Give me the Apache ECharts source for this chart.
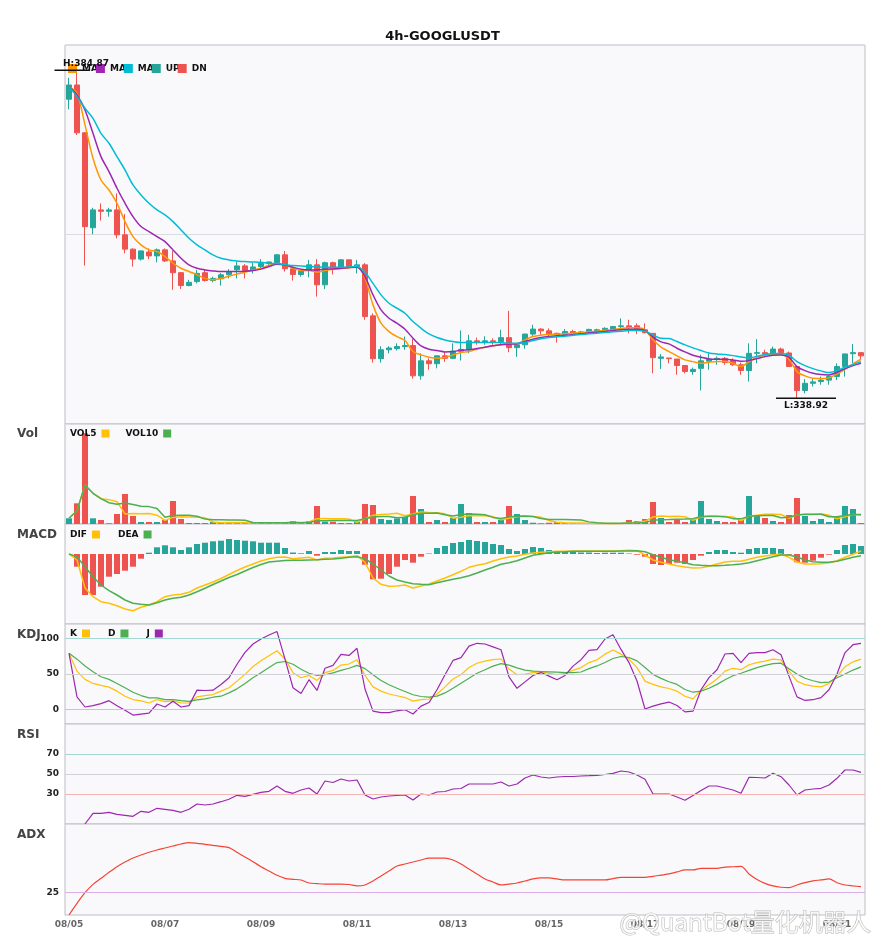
<!DOCTYPE html>
<html>
<head>
<meta charset="utf-8">
<title>4h-GOOGLUSDT</title>
<script src="https://cdn.jsdelivr.net/npm/echarts/dist/echarts.min.js"></script>
<style>
html, body { margin: 0; padding: 0; background: #fff; }
#main { width: 885px; height: 950px; }
</style>
</head>
<body>
<div id="main"></div>
<script>
// 4h candles, 08/05 00:00 .. 08/21 12:00
var days = ['08/05','08/06','08/07','08/08','08/09','08/10','08/11','08/12','08/13',
            '08/14','08/15','08/16','08/17','08/18','08/19','08/20','08/21'];
var hours = ['00:00','04:00','08:00','12:00','16:00','20:00'];

var opens = [380.8,382.8,376.1,362.8,365.3,365.1,365.3,361.8,359.8,358.4,
  359.4,358.85,359.7,358.15,356.5,354.7,355.25,356.5,355.4,355.65,
  356.2,356.9,357.45,356.8,357.35,357.8,357.9,359.0,357.05,356.25,
  356.8,357.6,354.8,357.9,357.15,358.3,357.35,357.6,350.45,344.45,
  345.7,345.87,346.15,346.3,342.05,344.15,343.75,344.85,344.5,345.5,
  345.78,346.95,346.75,346.95,346.85,347.4,346.0,346.4,347.9,348.6,
  348.35,348.0,347.75,348.25,348.0,348.2,348.3,348.5,348.55,348.95,
  349.05,349.05,348.5,348.0,344.5,344.55,344.4,343.5,342.65,343.1,
  344.1,344.4,344.5,344.2,343.6,342.8,345.2,345.3,345.2,345.8,
  345.25,343.35,340.0,341.0,341.25,341.45,341.95,343.35,345.15,345.3];
var closes = [382.8,376.1,362.95,365.3,365.1,365.3,361.8,359.8,358.4,359.55,
  358.85,359.7,358.15,356.5,354.7,355.15,356.4,355.4,355.7,356.2,
  356.65,357.45,356.8,357.3,357.8,358.0,359.0,357.05,356.25,356.75,
  357.6,354.8,357.9,357.15,358.3,357.25,357.6,350.35,344.45,345.7,
  345.95,346.15,346.3,342.05,344.15,343.75,344.85,344.5,345.5,345.75,
  346.95,346.75,346.95,346.75,347.4,346.0,346.4,347.9,348.6,348.35,
  347.9,347.75,348.25,348.0,348.2,348.55,348.5,348.7,348.95,349.05,
  348.8,348.6,348.1,344.6,344.7,344.45,343.5,342.65,342.95,344.15,
  344.4,344.5,343.9,343.6,342.8,345.2,345.3,345.1,345.8,345.3,
  343.35,339.98,341.0,341.2,341.45,341.95,343.35,345.12,345.3,344.85];
var lows = [379.4,375.8,357.5,361.9,363.8,364.35,361.3,359.2,357.35,358.2,
  358.4,357.95,358.0,354.1,354.2,354.6,355.0,355.25,355.15,354.7,
  355.7,355.7,355.7,356.4,357.1,357.35,357.8,356.65,355.4,355.95,
  355.85,353.15,354.2,356.25,357.0,357.15,356.4,349.9,343.9,343.9,
  345.2,345.6,345.7,341.65,341.5,342.9,343.1,344.0,344.4,344.2,
  345.2,346.4,346.4,346.4,346.4,345.35,344.7,345.85,347.65,347.8,
  347.55,346.7,347.55,347.8,347.95,348.1,348.15,348.2,348.25,348.35,
  348.0,347.9,348.0,342.4,343.0,343.8,342.2,342.4,342.2,340.0,
  342.9,343.6,343.6,343.45,342.2,341.25,343.8,344.65,345.2,345.2,
  343.35,338.92,339.6,340.55,340.8,340.8,341.45,341.95,343.8,344.3];
var highs = [383.8,384.87,376.2,365.6,366.2,365.6,367.6,364.7,359.9,359.6,
  359.9,359.9,359.9,359.55,356.6,355.5,356.9,356.9,355.95,356.45,
  357.0,358.05,357.7,357.9,358.4,358.05,359.1,359.55,357.35,357.0,
  358.3,358.4,358.05,358.05,358.4,358.3,358.3,357.85,350.8,346.2,
  346.2,346.6,347.55,347.2,345.2,344.5,344.9,345.4,346.6,348.4,
  347.8,347.4,347.6,347.3,348.5,351.15,346.6,347.95,349.2,348.7,
  348.7,348.1,348.6,348.5,348.35,348.65,348.65,348.85,349.05,350.1,
  349.9,349.4,349.4,348.0,345.1,344.55,344.4,343.5,343.2,345.0,
  345.2,344.75,344.7,344.5,343.9,346.6,347.2,345.7,346.15,346.0,
  345.45,343.35,341.6,341.6,341.95,342.2,343.8,345.12,346.5,345.3];

var ma5 = [382.57,381.63,377.2,372.53,369.49,368.09,366.23,363.66,361.56,360.39,
  359.69,359.46,358.76,357.82,357.12,356.66,356.2,355.7,355.5,355.7,
  356.0,356.3,356.55,356.9,357.1,357.54,357.73,357.59,357.12,356.8,
  356.8,356.56,356.8,356.98,357.08,357.17,357.45,355.72,351.99,349.42,
  348.25,347.55,346.99,345.45,344.98,344.66,344.52,344.61,344.98,345.31,
  345.45,345.78,346.06,346.25,346.43,346.53,346.53,347.09,347.55,347.74,
  347.83,347.88,347.93,348.02,348.12,348.21,348.3,348.4,348.54,348.68,
  348.77,348.77,348.49,347.09,346.06,345.45,344.84,344.28,344.04,343.81,
  343.95,344.04,344.04,343.81,343.34,344.04,344.65,344.93,345.07,345.07,
  344.37,342.64,342.04,341.71,341.66,341.76,342.32,342.97,343.72,344.37];
var ma10 = [382.57,381.4,379.3,376.03,372.76,370.66,368.33,366.23,364.36,362.96,
  362.26,361.56,360.86,359.69,358.52,357.59,357.12,356.89,356.75,356.66,
  356.66,356.66,356.7,356.8,357.0,357.36,357.68,357.59,357.26,356.98,
  356.89,356.89,356.98,357.03,357.12,357.22,357.26,355.95,353.39,351.29,
  350.12,349.42,348.58,347.32,346.24,345.78,345.59,345.4,345.45,345.64,
  345.69,345.87,346.06,346.25,346.39,346.48,346.53,346.85,347.18,347.41,
  347.55,347.65,347.74,347.83,347.93,348.07,348.16,348.26,348.4,348.49,
  348.58,348.58,348.4,347.46,346.8,346.52,345.91,345.4,344.93,344.65,
  344.42,344.37,344.37,344.28,344.09,344.18,344.46,344.74,344.93,344.98,
  344.65,343.34,342.78,342.41,342.22,342.18,342.55,343.06,343.48,343.81];
var ma20 = [382.57,381.17,379.53,378.13,376.03,374.63,372.76,370.9,368.79,367.39,
  366.23,365.29,364.59,363.66,362.49,361.32,360.39,359.69,358.99,358.52,
  358.29,358.15,358.05,358.0,357.95,357.82,357.78,357.64,357.5,357.45,
  357.36,357.31,357.26,357.26,357.26,357.31,357.36,356.56,355.0,353.39,
  352.22,351.52,350.82,349.65,348.72,347.92,347.41,347.08,346.85,346.71,
  346.71,346.71,346.71,346.71,346.71,346.62,346.62,346.71,346.99,347.23,
  347.41,347.51,347.6,347.74,347.83,347.93,348.02,348.12,348.21,348.3,
  348.4,348.4,348.3,347.79,347.3,347.27,346.85,346.38,345.96,345.59,
  345.26,345.12,345.03,344.88,344.7,344.56,344.79,345.03,345.17,345.17,
  344.93,344.04,343.48,343.06,342.74,342.5,342.78,343.25,343.62,344.04];

var volumes = [570,2070,9070,570,400,70,1000,3000,800,200,
  200,200,400,2300,500,100,100,100,200,100,
  100,150,100,100,150,100,100,200,300,70,
  300,1800,230,230,100,100,230,2000,1900,500,
  400,570,730,2800,1500,200,400,200,600,2000,
  1100,200,200,200,430,1800,1000,400,130,70,
  130,200,70,70,30,30,30,30,30,100,
  400,300,500,2200,600,200,430,200,430,2300,
  500,300,200,200,400,2800,830,600,300,200,
  900,2600,800,300,500,200,800,1800,1500,100];

var dif = [0,-6,-34,-42.7,-47.7,-49.3,-51.7,-55,-56.7,-53.3,
  -51,-47.7,-42.7,-41,-40.3,-38.3,-34,-31,-28,-24.5,
  -20.5,-16.5,-13,-10,-7,-4.8,-3.2,-3,-4.8,-4,
  -3.3,-6,-4.3,-4,-3.3,-2.7,-1.7,-8.3,-24,-30.3,
  -32.3,-32,-31,-34,-32,-30,-27,-24,-20.7,-17.3,
  -13.3,-11.3,-9.7,-7,-4.7,-3,-2,-0.3,1,1.7,
  2.3,2.7,2.7,3,3,3,3,3,3,3.3,
  3.7,3.3,-1,-6,-8.3,-10,-11.7,-13,-14,-13.7,
  -12.3,-10,-8,-7.3,-7.3,-5.3,-3.3,-2,-0.7,0,
  -3.3,-8,-10,-10,-9.7,-8.7,-6.7,-3.3,-0.3,3];
var dea = [0,-2.7,-12.7,-22.7,-31,-36.7,-41,-46,-49.3,-50.3,
  -51,-48.7,-46,-44.3,-43.3,-41,-37.7,-34.3,-30.5,-27,
  -23.5,-20.5,-17,-13.5,-10.5,-8,-7.2,-6.5,-6.2,-6.3,
  -6,-5.7,-5.3,-5,-4.3,-3.3,-2.7,-4.7,-10,-16,
  -22,-26,-28,-29.7,-30.3,-30.7,-28.7,-27,-25.3,-23.7,
  -21.7,-19,-16,-13.3,-10.3,-8.7,-6.7,-4,-1.3,0,
  1.3,2,2.3,2.7,2.7,2.7,2.7,2.7,2.7,3,
  3,3.3,2.3,-0.7,-3.3,-5.7,-7.3,-8.7,-10.7,-11.3,
  -11.7,-11.7,-11.3,-10.7,-10,-8.7,-6.7,-4.7,-2.7,-1,
  -1,-3,-6,-7.7,-8.3,-8.3,-7.3,-5.3,-3.3,-1.7];
var hist = [0,-12.7,-41,-41,-32.7,-22.7,-20,-16.7,-12.7,-4.7,
  1.3,6.7,8.7,6.7,4,6.7,10,11.3,12.7,13.3,
  15,14,13.3,12.7,11.3,11.3,11.3,6,1.5,0.7,
  3,-1.7,2,2,4,3,3,-10.7,-25.3,-24.7,
  -20,-12.7,-6,-8.7,-2.7,0.5,6,8,11,12,
  14,13,12,10,9,5,3,5,7,6,
  4,3,2,2,1.5,1.5,1,1.3,1.3,1.3,
  0.5,-0.7,-2.7,-10,-11,-10,-8.7,-10,-6,-1.7,
  2,4,4,2,1.3,5,6,6,6,5,
  -0.7,-8.3,-8.7,-6.7,-3.7,-0.7,4,9,10,8];

var kLine = [79,54,42.5,36.8,34,31.6,26,18.9,14.2,12.3,
  9.4,14.2,11.3,12.3,9.4,9.4,17.9,19.8,21.2,26,
  30.7,40,49.5,60.4,68.4,75.5,82.5,70.8,51.9,44.8,
  48,41,52,55,62.5,64,70,48,32,26,
  22,19.5,17,12,14,15,22,32,43,49,
  59,65,68,70,71,57,49,50,52,53,
  51,49,51,55,59,66,69.8,77.8,83.5,77.8,
  70.8,59,40,35.4,32,29.7,26,18.9,15.1,27.4,
  35,43,54,58,56,63,66,68,70.8,69.8,
  54,40,35,33,32,36.8,47.2,60,67,70.8];
var dLine = [79,70.8,61.3,53.3,46.2,42.5,36.8,30.7,24.5,19.8,
  16.5,16.5,14.2,14.2,12.7,11.8,13.7,15.1,17.5,18.9,
  23.6,29.2,36.8,44.8,51.9,59,66,67.5,63.7,56.6,
  51,48,49,51.5,55,58,62,57.5,49,41,
  35,30,25.5,21,18.5,17.5,19,23.5,30,37,
  44,51,56,61,64.5,62.5,58.5,55.5,54,53.5,
  53,52.5,52,52,52.8,57.5,61.3,66,71.7,74.5,
  73.1,68.4,59,49.5,43.9,39.2,35.4,28.3,24.5,26,
  30,35.5,42,47.5,51,55,59,62,64.6,65.1,
  57.5,50,44,40.5,38,38.7,44.8,50,55.5,59.9];
var jLine = [79,17.9,3.8,5.7,8.5,12.7,5.7,-0.9,-7.5,-6.1,
  -4.7,8,3.8,11.8,3.8,5.7,27.4,26.9,27.4,35.4,
  44.8,63.7,80.2,92,99,104.7,109.4,70.8,30.7,22.6,
  42,27,58,62,77.5,76,86,29,-2,-4,
  -4,-1.5,0,-6,5,10,28,49,69,73,
  89,93,92,88,84,46,30,39,48,52,
  47,42,48,61,70,83,84,99,105,84.4,
  66,40.2,1,5,8.2,10.7,6,-3,-2,28,
  45,56,78,79,66,79,80,80,84,77,
  47,18,13,14,17,28,50,80,91,93];

var rsi = ['-','-',0,10.7,10.7,11.7,9.7,8.7,7.7,12.7,
  11.7,15.7,14.7,13.7,11.7,14.7,20,19,20,22.3,
  24.7,28.7,27.7,29.7,31.7,32.7,38,32.7,30.7,34,
  36,30,43,41.5,45,43,44,29,25,27,
  28,28.5,29,24,30,29,32,32.5,35,35.5,
  40,40,40,40,42,38,40,46,49,47,
  46,47,47.5,47.5,48,48.3,48.7,49.5,50.7,53,
  52,49,44.7,30,30,30,27,23.7,28.5,33.5,
  38,38,36,34,30.7,46.7,46.5,46,50.7,47.3,
  39,29,34,35,35.7,39,45.7,54,54,51.7];

var adx = [0,12.8,24.5,33.7,40.3,46.9,53.1,58.2,62.6,65.9,
  68.9,71.4,73.6,75.8,78,79.5,78.8,77.7,76.6,75.5,
  74,68.9,63.7,58.6,53.1,48.4,43.6,40.3,39.2,38.5,
  35.2,34.5,34,34,34,33.5,31.9,33,37.4,42.9,
  48.4,53.8,56,58.2,60.4,62.6,62.6,62.6,60.4,56,
  50.5,45,39.6,36.3,33,34,35.2,37.4,39.6,40.7,
  40.7,39.6,38.5,38.5,38.5,38.5,38.5,38.5,40,41.4,
  41.4,41.4,41.4,42.5,43.8,45.1,47.3,49.5,49.5,51.3,
  51.3,51.3,52.7,53,53.5,45,39,34.8,32,30.5,
  30,33,35.5,37.5,38.5,39.6,35.5,33,32,31.1];

var UP = '#26a69a', DN = '#ef5350';
var FONT = 'DejaVu Sans';

var categories = [];
var kdata = [];
for (var i = 0; i < closes.length; i++) {
  categories.push(days[Math.floor(i / 6)] + ' ' + hours[i % 6]);
  kdata.push([opens[i], closes[i], lows[i], highs[i]]);
}

function sma(arr, n) {
  var out = [];
  for (var i = 0; i < arr.length; i++) {
    var s = 0, c = 0;
    for (var j = Math.max(0, i - n + 1); j <= i; j++) { s += arr[j]; c++; }
    out.push(+(s / c).toFixed(2));
  }
  return out;
}

var volBars = volumes.map(function (v, i) {
  return { value: v, itemStyle: { color: closes[i] >= opens[i] ? UP : DN } };
});
var histBars = hist.map(function (v) {
  return { value: v, itemStyle: { color: v >= 0 ? UP : DN } };
});

var hiIdx = highs.indexOf(Math.max.apply(null, highs));
var loIdx = lows.indexOf(Math.min.apply(null, lows));

var mainMin = 335.3, mainMax = 388.4;

var tops = [45, 424, 524, 624, 724, 824];
var heights = [379, 100, 100, 100, 100, 91];

var grids = [], xAxes = [];
for (var g = 0; g < 6; g++) {
  grids.push({
    left: 65, right: 20, top: tops[g], height: heights[g],
    show: true, backgroundColor: '#f9f9fb', borderColor: '#bdbdc4', borderWidth: 1
  });
  xAxes.push({
    type: 'category', gridIndex: g, data: categories, boundaryGap: true,
    axisLine: { show: false }, axisTick: { show: false },
    splitLine: { show: false },
    axisLabel: g === 5 ? {
      show: true, interval: 11, color: '#666', fontSize: 9, fontWeight: 'bold',
      fontFamily: FONT, margin: 5,
      formatter: function (v) { return v.slice(0, 5); }
    } : { show: false }
  });
}

function labelAxis(gi, min, max, interval, shown) {
  return {
    type: 'value', gridIndex: gi, min: min, max: max, interval: interval,
    axisLine: { show: false }, axisTick: { show: false }, splitLine: { show: false },
    axisLabel: {
      show: true, color: '#222', fontSize: 9, fontWeight: 'bold', fontFamily: FONT, margin: 6,
      formatter: function (v) { return shown.indexOf(v) >= 0 ? String(v) : ''; }
    }
  };
}

function refLines(list) {
  return {
    silent: true, symbol: 'none', animation: false,
    label: { show: false },
    lineStyle: { type: 'solid', width: 1 },
    data: list.map(function (d) { return { yAxis: d[0], lineStyle: { color: d[1], type: 'solid', width: 1 } }; })
  };
}

function line(name, data, color, xi, width, smooth) {
  return {
    name: name, type: 'line', data: data, xAxisIndex: xi, yAxisIndex: xi,
    symbol: 'none', smooth: smooth || false,
    lineStyle: { color: color, width: width || 1.2 }, itemStyle: { color: color }
  };
}

var legendText = { fontSize: 9, fontWeight: 'bold', color: '#111', fontFamily: FONT };

var option = {
  animation: false,
  backgroundColor: '#fff',
  title: {
    text: '4h-GOOGLUSDT', left: 'center', top: 25,
    textStyle: { fontSize: 13, fontWeight: 'bold', color: '#111', fontFamily: FONT }
  },
  legend: [
    { data: ['MA5', 'MA10', 'MA20', 'UP', 'DN'], left: 68, top: 64, icon: 'rect',
      itemWidth: 9, itemHeight: 9, itemGap: -2, padding: 0,
      textStyle: Object.assign({ width: 17, overflow: 'truncate', ellipsis: '' }, legendText) },
    { data: ['VOL5', 'VOL10'], left: 70, top: 429, icon: 'rect', align: 'right',
      itemWidth: 8, itemHeight: 8, itemGap: 16, padding: 0, textStyle: legendText },
    { data: ['DIF', 'DEA'], left: 70, top: 530, icon: 'rect', align: 'right',
      itemWidth: 8, itemHeight: 8, itemGap: 18, padding: 0,
      textStyle: Object.assign({ width: 22 }, legendText) },
    { data: ['K', 'D', 'J'], left: 70, top: 629, icon: 'rect', align: 'right',
      itemWidth: 8, itemHeight: 8, itemGap: 18, padding: 0,
      textStyle: Object.assign({ width: 12 }, legendText) }
  ],
  grid: grids,
  xAxis: xAxes,
  yAxis: [
    { type: 'value', gridIndex: 0, min: mainMin, max: mainMax, interval: (mainMax - mainMin) / 2,
      axisLabel: { show: false }, axisLine: { show: false }, axisTick: { show: false },
      splitLine: { show: true, lineStyle: { color: '#dcdce0' } } },
    { type: 'value', gridIndex: 1, min: 0, max: 10000,
      axisLabel: { show: false }, axisLine: { show: false }, axisTick: { show: false }, splitLine: { show: false } },
    { type: 'value', gridIndex: 2, min: -70, max: 30,
      axisLabel: { show: false }, axisLine: { show: false }, axisTick: { show: false }, splitLine: { show: false } },
    labelAxis(3, -20, 120, 10, [0, 50, 100]),
    labelAxis(4, 0, 100, 10, [30, 50, 70]),
    labelAxis(5, 0, 100, 25, [25])
  ],
  graphic: [
    { type: 'text', left: 17, top: 428, style: { text: 'Vol', font: 'bold 12px "DejaVu Sans"', fill: '#444' } },
    { type: 'text', left: 17, top: 529, style: { text: 'MACD', font: 'bold 12px "DejaVu Sans"', fill: '#444' } },
    { type: 'text', left: 17, top: 629, style: { text: 'KDJ', font: 'bold 12px "DejaVu Sans"', fill: '#444' } },
    { type: 'text', left: 17, top: 729, style: { text: 'RSI', font: 'bold 12px "DejaVu Sans"', fill: '#444' } },
    { type: 'text', left: 17, top: 829, style: { text: 'ADX', font: 'bold 12px "DejaVu Sans"', fill: '#444' } },
    { type: 'text', left: 619, top: 909, z: 100, silent: true,
      style: { text: '@QuantBot量化机器人', font: '24px "Noto Sans CJK SC"',
               fill: 'rgba(255,255,255,0.75)', stroke: 'rgba(170,170,170,0.8)', lineWidth: 1 } }
  ],
  series: [
    {
      name: 'Kline', type: 'candlestick', data: kdata, xAxisIndex: 0, yAxisIndex: 0,
      barWidth: 6,
      itemStyle: { color: UP, color0: DN, borderColor: UP, borderColor0: DN, borderWidth: 1 },
      markPoint: {
        silent: true, animation: false,
        data: [
          { coord: [hiIdx, highs[hiIdx]], symbol: 'rect', symbolSize: [35, 1.5], symbolOffset: [-5, 0],
            itemStyle: { color: '#111' },
            label: { show: true, position: 'top', distance: 1, offset: [14, 0],
                     formatter: 'H:' + highs[hiIdx].toFixed(2), color: '#111',
                     fontSize: 9, fontWeight: 'bold', fontFamily: FONT } },
          { coord: [loIdx, lows[loIdx]], symbol: 'rect', symbolSize: [60, 1.5], symbolOffset: [9, 0],
            itemStyle: { color: '#111' },
            label: { show: true, position: 'bottom', distance: 2, offset: [0, 0],
                     formatter: 'L:' + lows[loIdx].toFixed(2), color: '#111',
                     fontSize: 9, fontWeight: 'bold', fontFamily: FONT } }
        ]
      }
    },
    line('MA5', ma5, '#ff9800', 0, 1.5, 0.3),
    line('MA10', ma10, '#9c27b0', 0, 1.5, 0.3),
    line('MA20', ma20, '#00bcd4', 0, 1.5, 0.3),
    { name: 'UP', type: 'bar', data: [], xAxisIndex: 0, yAxisIndex: 0, itemStyle: { color: UP } },
    { name: 'DN', type: 'bar', data: [], xAxisIndex: 0, yAxisIndex: 0, itemStyle: { color: DN } },

    { name: 'Volume', type: 'bar', data: volBars, xAxisIndex: 1, yAxisIndex: 1, barWidth: 6 },
    line('VOL5', sma(volumes, 5), '#ffc107', 1, 1.5),
    line('VOL10', sma(volumes, 10), '#4caf50', 1, 1.5),

    { name: 'MACD', type: 'bar', data: histBars, xAxisIndex: 2, yAxisIndex: 2, barWidth: 6 },
    line('DIF', dif, '#ffc107', 2, 1.5),
    line('DEA', dea, '#4caf50', 2, 1.5),

    Object.assign(line('K', kLine, '#ffc107', 3, 1.2),
      { markLine: refLines([[100, '#a3d9d2'], [50, '#cfcfd4'], [0, '#f6b4b4']]) }),
    line('D', dLine, '#4caf50', 3, 1.2),
    line('J', jLine, '#9c27b0', 3, 1.2),

    Object.assign(line('RSI', rsi, '#9c27b0', 4, 1.2),
      { markLine: refLines([[70, '#a3d9d2'], [50, '#cfcfd4'], [30, '#f6b4b4']]) }),

    Object.assign(line('ADX', adx, '#f44336', 5, 1.2, 0.3),
      { markLine: refLines([[25, '#dcaee8']]) })
  ]
};

var chart = echarts.init(document.getElementById('main'));
chart.setOption(option);
</script>
</body>
</html>
